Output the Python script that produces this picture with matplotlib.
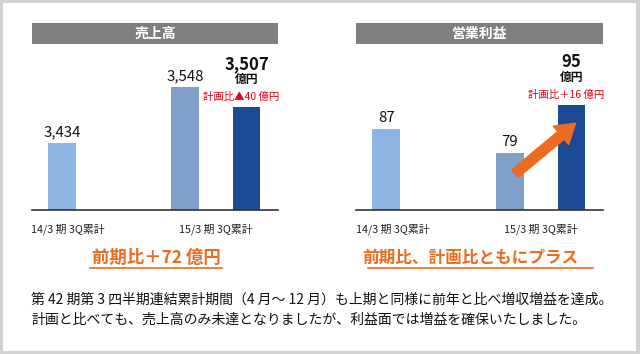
import matplotlib.pyplot as plt
from matplotlib.patches import Rectangle, FancyArrowPatch
from matplotlib.lines import Line2D

plt.rcParams['font.family'] = ['Noto Sans CJK JP', 'DejaVu Sans']

# data
periods = ['14/3 期 3Q累計', '15/3 期 3Q累計']
sales = [3434, 3548, 3507]
profit = [87, 79, 95]
sales_labels = ['3,434', '3,548', '3,507']
profit_labels = ['87', '79', '95']
sales_note = '計画比▲40 億円'
profit_note = '計画比＋16 億円'
bar_pos = [0, 2, 3]
tick_pos = [0.1, 2.5]
bar_colors = ['#8db4e2', '#7fa1c9', '#1b4a94']

W, H = 640, 354
fig = plt.figure(figsize=(W / 100, H / 100), dpi=100)
fig.patch.set_facecolor('#d2d2d2')
fig.add_artist(Rectangle((3 / W, 3 / H), 633 / W, 348 / H, transform=fig.transFigure,
                         facecolor='white', edgecolor='none', zorder=0))

def panel(x0, w, vals, labels, note, title, ylim):
    ax = fig.add_axes([x0 / W, 1 - 210 / H, w / W, 166 / H])
    ax.set_facecolor('none')
    ax.bar(bar_pos, vals, width=0.45, color=bar_colors, bottom=0)
    ax.set_xlim(-0.49, 3.51)
    ax.set_ylim(*ylim)
    for s in ['top', 'right', 'left']:
        ax.spines[s].set_visible(False)
    ax.spines['bottom'].set_color('#333333')
    ax.spines['bottom'].set_linewidth(1.2)
    ax.set_yticks([])
    ax.set_xticks(tick_pos)
    ax.set_xticklabels(periods, fontsize=7.8, color='#222222')
    ax.tick_params(axis='x', length=0, pad=10)
    for i in range(2):
        ax.annotate(labels[i], (bar_pos[i], vals[i]), xytext=(0, 3), textcoords='offset points',
                    ha='center', va='bottom', fontsize=10.8, color='#111111')
    ax.annotate(labels[2], (bar_pos[2], vals[2]), xytext=(0, 31), textcoords='offset points',
                ha='center', va='center', fontsize=12, fontweight='bold', color='#111111')
    ax.annotate('億円', (bar_pos[2], vals[2]), xytext=(0, 20), textcoords='offset points',
                ha='center', va='center', fontsize=8.5, fontweight='bold', color='#111111')
    ax.annotate(note, (bar_pos[2], vals[2]), xytext=(-4, 7), textcoords='offset points',
                ha='center', va='center', fontsize=7.5, color='#e60012')
    ax.add_patch(Rectangle((0, 1), 1, 21 / 166, transform=ax.transAxes, clip_on=False,
                           facecolor='#7f7f7f', edgecolor='none'))
    ax.text(0.5, 1 + 10.5 / 166, title, transform=ax.transAxes, ha='center', va='center',
            color='white', fontsize=10, fontweight='bold')
    return ax

ax1 = panel(32, 246, sales, sales_labels, sales_note, '売上高', (3297.6, 3635.5))
ax2 = panel(356, 247, profit, profit_labels, profit_note, '営業利益', (60, 115.3))

arrow = FancyArrowPatch((2.05, profit[1] - 7.5), (3.1, profit[2] - 5.5),
                        arrowstyle='simple,head_width=2.4,head_length=1.9,tail_width=1',
                        mutation_scale=7.2, color='#ec6b1e', zorder=5, clip_on=False)
ax2.add_patch(arrow)

orange = '#ec6b1e'
fig.text(156 / W, 1 - 258 / H, '前期比＋72 億円', ha='center', va='center',
         fontsize=12.5, fontweight='bold', color=orange)
fig.add_artist(Line2D([90 / W, 222 / W], [1 - 268 / H] * 2, color=orange, lw=1.2))
fig.text(470 / W, 1 - 258 / H, '前期比、計画比ともにプラス', ha='center', va='center',
         fontsize=12, fontweight='bold', color=orange)
fig.add_artist(Line2D([368 / W, 593 / W], [1 - 268 / H] * 2, color=orange, lw=1.2))

fig.text(31 / W, 1 - 300 / H, '第 42 期第 3 四半期連結累計期間（4 月～ 12 月）も上期と同様に前年と比べ増収増益を達成。',
         ha='left', va='center', fontsize=10, color='#111111')
fig.text(31 / W, 1 - 320 / H, '計画と比べても、売上高のみ未達となりましたが、利益面では増益を確保いたしました。',
         ha='left', va='center', fontsize=10, color='#111111')

fig.savefig('out.png', dpi=100)
